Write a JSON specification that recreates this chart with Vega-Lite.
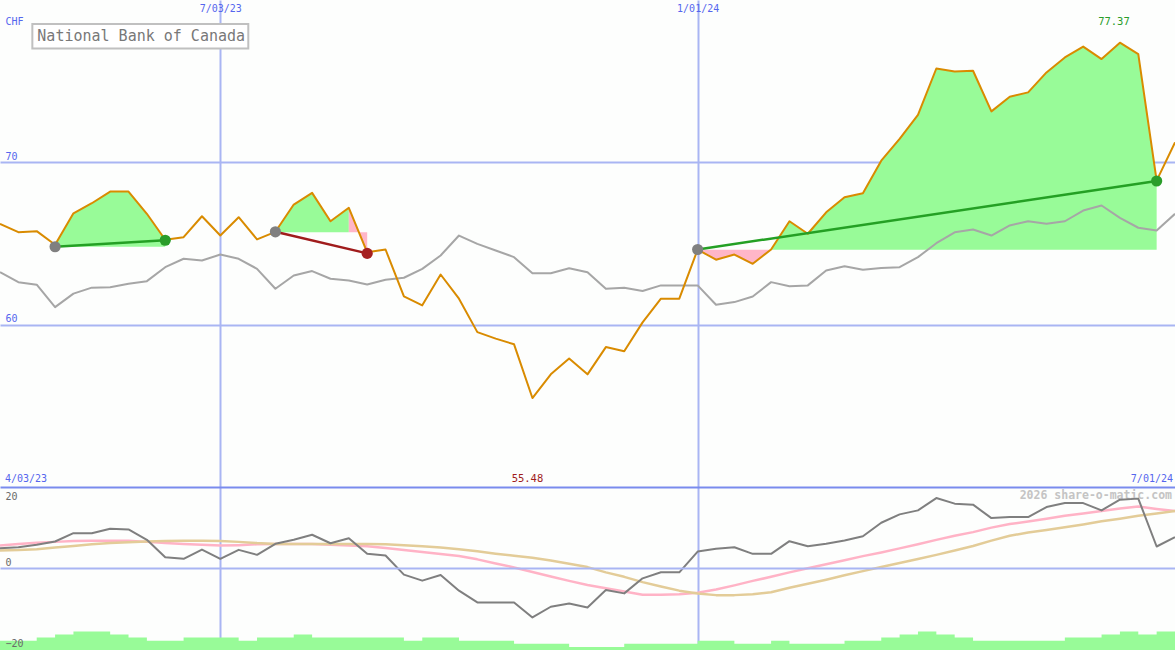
{
  "$schema": "https://vega.github.io/schema/vega-lite/v6.json",
  "padding": 0,
  "spacing": 0,
  "background": "#fdfefd",
  "config": {"view": {"stroke": null}, "concat": {"spacing": 0}},
  "datasets": {
    "prices": [
      {"date":"2023-04-10","price":66.21,"bench":63.23,"mom":4.94,"ma1":5.6,"ma2":4.4,"vol":3},
      {"date":"2023-04-17","price":65.70,"bench":62.62,"mom":5.19,"ma1":6.0,"ma2":4.5,"vol":3},
      {"date":"2023-04-24","price":65.76,"bench":62.46,"mom":5.78,"ma1":6.3,"ma2":4.7,"vol":4},
      {"date":"2023-05-01","price":64.92,"bench":61.08,"mom":6.59,"ma1":6.5,"ma2":5.1,"vol":5},
      {"date":"2023-05-08","price":66.86,"bench":61.91,"mom":8.64,"ma1":6.7,"ma2":5.5,"vol":6},
      {"date":"2023-05-15","price":67.48,"bench":62.28,"mom":8.64,"ma1":6.8,"ma2":5.9,"vol":6},
      {"date":"2023-05-22","price":68.20,"bench":62.31,"mom":9.73,"ma1":6.8,"ma2":6.2,"vol":5},
      {"date":"2023-05-29","price":68.20,"bench":62.52,"mom":9.56,"ma1":6.8,"ma2":6.4,"vol":4},
      {"date":"2023-06-05","price":66.83,"bench":62.68,"mom":7.01,"ma1":6.5,"ma2":6.6,"vol":3},
      {"date":"2023-06-12","price":65.23,"bench":63.54,"mom":2.72,"ma1":6.2,"ma2":6.7,"vol":3},
      {"date":"2023-06-19","price":65.39,"bench":64.06,"mom":2.32,"ma1":6.0,"ma2":6.8,"vol":4},
      {"date":"2023-06-26","price":66.68,"bench":63.95,"mom":4.62,"ma1":5.8,"ma2":6.8,"vol":4},
      {"date":"2023-07-03","price":65.49,"bench":64.32,"mom":2.32,"ma1":5.6,"ma2":6.7,"vol":4},
      {"date":"2023-07-10","price":66.62,"bench":64.06,"mom":4.54,"ma1":5.7,"ma2":6.5,"vol":3},
      {"date":"2023-07-17","price":65.25,"bench":63.44,"mom":3.31,"ma1":5.9,"ma2":6.2,"vol":4},
      {"date":"2023-07-24","price":65.72,"bench":62.21,"mom":6.02,"ma1":6.0,"ma2":6.0,"vol":4},
      {"date":"2023-07-31","price":67.40,"bench":63.03,"mom":7.01,"ma1":6.0,"ma2":6.0,"vol":5},
      {"date":"2023-08-07","price":68.12,"bench":63.30,"mom":8.25,"ma1":5.95,"ma2":6.0,"vol":4},
      {"date":"2023-08-14","price":66.37,"bench":62.83,"mom":6.17,"ma1":5.8,"ma2":6.0,"vol":4},
      {"date":"2023-08-21","price":67.20,"bench":62.72,"mom":7.41,"ma1":5.6,"ma2":6.0,"vol":4},
      {"date":"2023-08-28","price":64.46,"bench":62.48,"mom":3.56,"ma1":5.4,"ma2":6.0,"vol":4},
      {"date":"2023-09-04","price":64.63,"bench":62.77,"mom":3.14,"ma1":5.0,"ma2":5.9,"vol":4},
      {"date":"2023-09-11","price":61.74,"bench":62.89,"mom":-1.56,"ma1":4.5,"ma2":5.7,"vol":3},
      {"date":"2023-09-18","price":61.19,"bench":63.44,"mom":-3.04,"ma1":4.0,"ma2":5.4,"vol":4},
      {"date":"2023-09-25","price":63.09,"bench":64.26,"mom":-1.64,"ma1":3.5,"ma2":5.1,"vol":4},
      {"date":"2023-10-02","price":61.60,"bench":65.49,"mom":-5.51,"ma1":3.0,"ma2":4.7,"vol":3},
      {"date":"2023-10-09","price":59.54,"bench":64.98,"mom":-8.40,"ma1":2.2,"ma2":4.2,"vol":3},
      {"date":"2023-10-16","price":59.14,"bench":64.57,"mom":-8.40,"ma1":1.2,"ma2":3.6,"vol":3},
      {"date":"2023-10-23","price":58.79,"bench":64.16,"mom":-8.40,"ma1":0.2,"ma2":3.1,"vol":2},
      {"date":"2023-10-30","price":55.48,"bench":63.17,"mom":-12.10,"ma1":-0.9,"ma2":2.6,"vol":2},
      {"date":"2023-11-06","price":56.94,"bench":63.17,"mom":-9.46,"ma1":-2.0,"ma2":1.9,"vol":2},
      {"date":"2023-11-13","price":57.91,"bench":63.48,"mom":-8.64,"ma1":-3.1,"ma2":1.1,"vol":1},
      {"date":"2023-11-20","price":56.94,"bench":63.23,"mom":-9.63,"ma1":-4.1,"ma2":0.3,"vol":1},
      {"date":"2023-11-27","price":58.62,"bench":62.21,"mom":-5.33,"ma1":-4.9,"ma2":-1.0,"vol":1},
      {"date":"2023-12-04","price":58.36,"bench":62.28,"mom":-6.17,"ma1":-5.7,"ma2":-2.1,"vol":2},
      {"date":"2023-12-11","price":60.14,"bench":62.07,"mom":-2.47,"ma1":-6.5,"ma2":-3.4,"vol":2},
      {"date":"2023-12-18","price":61.60,"bench":62.42,"mom":-0.99,"ma1":-6.5,"ma2":-4.5,"vol":2},
      {"date":"2023-12-25","price":61.60,"bench":62.42,"mom":-0.99,"ma1":-6.4,"ma2":-5.5,"vol":2},
      {"date":"2024-01-01","price":64.63,"bench":62.42,"mom":4.12,"ma1":-6.0,"ma2":-6.2,"vol":3},
      {"date":"2024-01-08","price":64.00,"bench":61.23,"mom":4.79,"ma1":-5.2,"ma2":-6.6,"vol":3},
      {"date":"2024-01-15","price":64.32,"bench":61.39,"mom":5.19,"ma1":-4.2,"ma2":-6.6,"vol":2},
      {"date":"2024-01-22","price":63.75,"bench":61.74,"mom":3.56,"ma1":-3.1,"ma2":-6.4,"vol":2},
      {"date":"2024-01-29","price":64.63,"bench":62.62,"mom":3.56,"ma1":-2.1,"ma2":-5.9,"vol":3},
      {"date":"2024-02-05","price":66.37,"bench":62.37,"mom":6.67,"ma1":-1.0,"ma2":-4.8,"vol":2},
      {"date":"2024-02-12","price":65.60,"bench":62.42,"mom":5.43,"ma1":0.0,"ma2":-3.8,"vol":2},
      {"date":"2024-02-19","price":66.92,"bench":63.34,"mom":6.02,"ma1":1.0,"ma2":-2.8,"vol":2},
      {"date":"2024-02-26","price":67.85,"bench":63.60,"mom":6.84,"ma1":2.0,"ma2":-1.7,"vol":3},
      {"date":"2024-03-04","price":68.09,"bench":63.38,"mom":7.90,"ma1":3.0,"ma2":-0.7,"vol":3},
      {"date":"2024-03-11","price":70.10,"bench":63.49,"mom":11.21,"ma1":3.9,"ma2":0.3,"vol":4},
      {"date":"2024-03-18","price":71.44,"bench":63.54,"mom":13.26,"ma1":4.9,"ma2":1.3,"vol":5},
      {"date":"2024-03-25","price":72.92,"bench":64.16,"mom":14.25,"ma1":5.9,"ma2":2.3,"vol":6},
      {"date":"2024-04-01","price":75.78,"bench":65.02,"mom":17.28,"ma1":7.0,"ma2":3.3,"vol":5},
      {"date":"2024-04-08","price":75.60,"bench":65.69,"mom":15.90,"ma1":8.0,"ma2":4.4,"vol":4},
      {"date":"2024-04-15","price":75.64,"bench":65.86,"mom":15.65,"ma1":8.9,"ma2":5.5,"vol":3},
      {"date":"2024-04-22","price":73.14,"bench":65.49,"mom":12.35,"ma1":10.0,"ma2":6.8,"vol":3},
      {"date":"2024-04-29","price":74.04,"bench":66.11,"mom":12.60,"ma1":10.9,"ma2":8.0,"vol":3},
      {"date":"2024-05-06","price":74.31,"bench":66.37,"mom":12.60,"ma1":11.5,"ma2":8.8,"vol":3},
      {"date":"2024-05-13","price":75.54,"bench":66.21,"mom":15.06,"ma1":12.2,"ma2":9.4,"vol":3},
      {"date":"2024-05-20","price":76.46,"bench":66.37,"mom":16.05,"ma1":12.9,"ma2":10.1,"vol":4},
      {"date":"2024-05-27","price":77.13,"bench":67.03,"mom":16.05,"ma1":13.5,"ma2":10.8,"vol":4},
      {"date":"2024-06-03","price":76.36,"bench":67.34,"mom":14.25,"ma1":14.1,"ma2":11.6,"vol":5},
      {"date":"2024-06-10","price":77.37,"bench":66.58,"mom":16.89,"ma1":14.7,"ma2":12.2,"vol":6},
      {"date":"2024-06-17","price":76.67,"bench":65.97,"mom":17.14,"ma1":15.2,"ma2":12.9,"vol":5},
      {"date":"2024-06-24","price":68.87,"bench":65.80,"mom":5.36,"ma1":14.6,"ma2":13.5,"vol":6},
      {"date":"2024-07-01","price":71.23,"bench":66.83,"mom":7.65,"ma1":14.1,"ma2":14.07,"vol":6}
    ],
    "fills": [
      {"seg":"t1g","kind":"gain","date":"2023-05-01","price":64.92,"base":64.80},
      {"seg":"t1g","kind":"gain","date":"2023-05-08","price":66.86,"base":64.80},
      {"seg":"t1g","kind":"gain","date":"2023-05-15","price":67.48,"base":64.80},
      {"seg":"t1g","kind":"gain","date":"2023-05-22","price":68.20,"base":64.80},
      {"seg":"t1g","kind":"gain","date":"2023-05-29","price":68.20,"base":64.80},
      {"seg":"t1g","kind":"gain","date":"2023-06-05","price":66.83,"base":64.80},
      {"seg":"t1g","kind":"gain","date":"2023-06-12","price":65.23,"base":64.80},
      {"seg":"t2g","kind":"gain","date":"2023-07-24","price":65.72,"base":65.70},
      {"seg":"t2g","kind":"gain","date":"2023-07-31","price":67.40,"base":65.70},
      {"seg":"t2g","kind":"gain","date":"2023-08-07","price":68.12,"base":65.70},
      {"seg":"t2g","kind":"gain","date":"2023-08-14","price":66.37,"base":65.70},
      {"seg":"t2g","kind":"gain","date":"2023-08-21","price":67.20,"base":65.70},
      {"seg":"t2l","kind":"loss","date":"2023-08-21","price":67.20,"base":65.70},
      {"seg":"t2l","kind":"loss","date":"2023-08-28","price":64.46,"base":65.70},
      {"seg":"t3l","kind":"loss","date":"2024-01-01","price":64.63,"base":64.61},
      {"seg":"t3l","kind":"loss","date":"2024-01-08","price":64.00,"base":64.61},
      {"seg":"t3l","kind":"loss","date":"2024-01-15","price":64.32,"base":64.61},
      {"seg":"t3l","kind":"loss","date":"2024-01-22","price":63.75,"base":64.61},
      {"seg":"t3l","kind":"loss","date":"2024-01-29","price":64.63,"base":64.61},
      {"seg":"t3g","kind":"gain","date":"2024-01-29","price":64.63,"base":64.61},
      {"seg":"t3g","kind":"gain","date":"2024-02-05","price":66.37,"base":64.61},
      {"seg":"t3g","kind":"gain","date":"2024-02-12","price":65.60,"base":64.61},
      {"seg":"t3g","kind":"gain","date":"2024-02-19","price":66.92,"base":64.61},
      {"seg":"t3g","kind":"gain","date":"2024-02-26","price":67.85,"base":64.61},
      {"seg":"t3g","kind":"gain","date":"2024-03-04","price":68.09,"base":64.61},
      {"seg":"t3g","kind":"gain","date":"2024-03-11","price":70.10,"base":64.61},
      {"seg":"t3g","kind":"gain","date":"2024-03-18","price":71.44,"base":64.61},
      {"seg":"t3g","kind":"gain","date":"2024-03-25","price":72.92,"base":64.61},
      {"seg":"t3g","kind":"gain","date":"2024-04-01","price":75.78,"base":64.61},
      {"seg":"t3g","kind":"gain","date":"2024-04-08","price":75.60,"base":64.61},
      {"seg":"t3g","kind":"gain","date":"2024-04-15","price":75.64,"base":64.61},
      {"seg":"t3g","kind":"gain","date":"2024-04-22","price":73.14,"base":64.61},
      {"seg":"t3g","kind":"gain","date":"2024-04-29","price":74.04,"base":64.61},
      {"seg":"t3g","kind":"gain","date":"2024-05-06","price":74.31,"base":64.61},
      {"seg":"t3g","kind":"gain","date":"2024-05-13","price":75.54,"base":64.61},
      {"seg":"t3g","kind":"gain","date":"2024-05-20","price":76.46,"base":64.61},
      {"seg":"t3g","kind":"gain","date":"2024-05-27","price":77.13,"base":64.61},
      {"seg":"t3g","kind":"gain","date":"2024-06-03","price":76.36,"base":64.61},
      {"seg":"t3g","kind":"gain","date":"2024-06-10","price":77.37,"base":64.61},
      {"seg":"t3g","kind":"gain","date":"2024-06-17","price":76.67,"base":64.61},
      {"seg":"t3g","kind":"gain","date":"2024-06-24","price":68.87,"base":64.61}
    ],
    "trades": [
      {"trade":"t1","result":"win","date":"2023-05-01","value":64.80},
      {"trade":"t1","result":"win","date":"2023-06-12","value":65.20},
      {"trade":"t2","result":"loss","date":"2023-07-24","value":65.72},
      {"trade":"t2","result":"loss","date":"2023-08-28","value":64.39},
      {"trade":"t3","result":"win","date":"2024-01-01","value":64.63},
      {"trade":"t3","result":"win","date":"2024-06-24","value":68.85}
    ],
    "dots": [
      {"date":"2023-05-01","value":64.80,"type":"entry"},
      {"date":"2023-06-12","value":65.20,"type":"win"},
      {"date":"2023-07-24","value":65.72,"type":"entry"},
      {"date":"2023-08-28","value":64.39,"type":"loss"},
      {"date":"2024-01-01","value":64.63,"type":"entry"},
      {"date":"2024-06-24","value":68.85,"type":"win"}
    ]
  },
  "vconcat": [
    {
      "width": 1175,
      "height": 487,
      "layer": [
        {
          "data": {"name": "fills"},
          "mark": {"type": "area", "interpolate": "linear", "opacity": 1, "clip": true},
          "encoding": {
            "x": {"field": "date", "type": "temporal",
                  "scale": {"type": "utc", "nice": false, "domain": [{"year":2023,"month":4,"date":10,"utc":true},{"year":2024,"month":7,"date":1,"utc":true}]},
                  "axis": {"orient": "top", "values": [{"year":2023,"month":7,"date":3,"utc":true},{"year":2024,"month":1,"date":1,"utc":true}],
                           "labelExpr": "utcFormat(datum.value, '%-m/%d/%y')", "grid": true, "gridColor": "#a9b5f3", "gridWidth": 2,
                           "ticks": false, "tickSize": 0, "domain": false, "labelPadding": -8, "labelBaseline": "middle",
                           "labelFont": "DejaVu Sans Mono", "labelFontSize": 10, "labelColor": "#5566ee", "title": null,
                           "labelFlush": false, "labelOverlap": false}},
            "y": {"field": "price", "type": "quantitative",
                  "scale": {"domain": [50, 80], "zero": false, "nice": false},
                  "axis": {"values": [60, 70], "grid": true, "gridColor": "#a9b5f3", "gridWidth": 2, "ticks": false, "tickSize": 0,
                           "domain": false, "labelAlign": "left", "labelPadding": -5, "labelBaseline": "middle", "labelOffset": -6,
                           "labelFont": "DejaVu Sans Mono", "labelFontSize": 10, "labelColor": "#5566ee",
                           "title": "CHF", "titleAngle": 0, "titleAlign": "left", "titleBaseline": "middle", "titleX": 5, "titleY": 21,
                           "titleFont": "DejaVu Sans Mono", "titleFontSize": 10, "titleFontWeight": "normal", "titleColor": "#5566ee"}},
            "y2": {"field": "base"},
            "fill": {"field": "kind", "type": "nominal", "scale": {"domain": ["gain", "loss"], "range": ["#98fb98", "#ffb6c8"]}, "legend": null},
            "detail": {"field": "seg", "type": "nominal"}
          }
        },
        {
          "data": {"name": "prices"},
          "mark": {"type": "line", "color": "#a6a6a6", "strokeWidth": 2, "clip": true, "strokeJoin": "round"},
          "encoding": {
            "x": {"field": "date", "type": "temporal"},
            "y": {"field": "bench", "type": "quantitative"}
          }
        },
        {
          "data": {"name": "prices"},
          "mark": {"type": "line", "color": "#d98b00", "strokeWidth": 2, "clip": true, "strokeJoin": "round"},
          "encoding": {
            "x": {"field": "date", "type": "temporal"},
            "y": {"field": "price", "type": "quantitative"}
          }
        },
        {
          "data": {"name": "trades"},
          "mark": {"type": "line", "strokeWidth": 2.5, "clip": true},
          "encoding": {
            "x": {"field": "date", "type": "temporal"},
            "y": {"field": "value", "type": "quantitative"},
            "stroke": {"field": "result", "type": "nominal", "scale": {"domain": ["win", "loss"], "range": ["#24a024", "#a01c1c"]}, "legend": null},
            "detail": {"field": "trade", "type": "nominal"}
          }
        },
        {
          "data": {"name": "dots"},
          "mark": {"type": "point", "filled": true, "size": 125, "opacity": 1, "clip": true},
          "encoding": {
            "x": {"field": "date", "type": "temporal"},
            "y": {"field": "value", "type": "quantitative"},
            "color": {"field": "type", "type": "nominal", "scale": {"domain": ["entry", "win", "loss"], "range": ["#808080", "#2a9d2a", "#a52020"]}, "legend": null}
          }
        },
        {
          "data": {"values": [{}]},
          "mark": {"type": "rect", "fill": "#ffffff", "stroke": "#c0c0c0", "strokeWidth": 2},
          "encoding": {
            "x": {"datum": {"year":2023,"month":4,"date":22,"hours":8,"utc":true}, "type": "temporal"},
            "x2": {"datum": {"year":2023,"month":7,"date":13,"hours":16,"utc":true}},
            "y": {"datum": 78.52, "type": "quantitative"},
            "y2": {"datum": 77.02}
          }
        },
        {
          "data": {"values": [{"name": "National Bank of Canada"}]},
          "mark": {"type": "text", "font": "DejaVu Sans Mono", "fontSize": 15, "color": "#787878", "align": "center", "baseline": "middle"},
          "encoding": {
            "x": {"datum": {"year":2023,"month":6,"date":2,"hours":20,"utc":true}, "type": "temporal"},
            "y": {"datum": 77.77, "type": "quantitative"},
            "text": {"field": "name"}
          }
        },
        {
          "data": {"values": [{"date": "2024-06-10", "label": "77.37"}]},
          "mark": {"type": "text", "font": "DejaVu Sans Mono", "fontSize": 10.5, "color": "#2a9d2a", "align": "center", "baseline": "middle", "dx": -6},
          "encoding": {
            "x": {"field": "date", "type": "temporal"},
            "y": {"datum": 78.64, "type": "quantitative"},
            "text": {"field": "label"}
          }
        },
        {
          "data": {"values": [{"date": "2023-10-30", "label": "55.48"}]},
          "mark": {"type": "text", "font": "DejaVu Sans Mono", "fontSize": 10.5, "color": "#a01c1c", "align": "center", "baseline": "middle", "dx": -5},
          "encoding": {
            "x": {"field": "date", "type": "temporal"},
            "y": {"datum": 50.49, "type": "quantitative"},
            "text": {"field": "label"}
          }
        },
        {
          "data": {"values": [{"label": "4/03/23"}]},
          "mark": {"type": "text", "font": "DejaVu Sans Mono", "fontSize": 10, "color": "#5566ee", "align": "left", "baseline": "middle", "dx": 5},
          "encoding": {
            "x": {"datum": {"year":2023,"month":4,"date":10,"utc":true}, "type": "temporal"},
            "y": {"datum": 50.49, "type": "quantitative"},
            "text": {"field": "label"}
          }
        },
        {
          "data": {"values": [{"label": "7/01/24"}]},
          "mark": {"type": "text", "font": "DejaVu Sans Mono", "fontSize": 10, "color": "#5566ee", "align": "right", "baseline": "middle", "dx": -2},
          "encoding": {
            "x": {"datum": {"year":2024,"month":7,"date":1,"utc":true}, "type": "temporal"},
            "y": {"datum": 50.49, "type": "quantitative"},
            "text": {"field": "label"}
          }
        }
      ]
    },
    {
      "width": 1175,
      "height": 163,
      "layer": [
        {
          "data": {"name": "prices"},
          "mark": {"type": "area", "interpolate": "step-after", "color": "#98fb98", "opacity": 1, "clip": true},
          "encoding": {
            "x": {"field": "date", "type": "temporal",
                  "scale": {"type": "utc", "nice": false, "domain": [{"year":2023,"month":4,"date":10,"utc":true},{"year":2024,"month":7,"date":1,"utc":true}]},
                  "axis": {"values": [{"year":2023,"month":7,"date":3,"utc":true},{"year":2024,"month":1,"date":1,"utc":true}],
                           "grid": true, "gridColor": "#a9b5f3", "gridWidth": 2, "labels": false, "ticks": false, "tickSize": 0, "domain": false, "title": null}},
            "y": {"field": "vol", "type": "quantitative", "scale": {"domain": [0, 52.6], "nice": false}, "axis": null}
          }
        },
        {
          "layer": [
            {
              "data": {"values": [{"label": "2026 share-o-matic.com"}]},
              "mark": {"type": "text", "font": "DejaVu Sans Mono", "fontSize": 11.5, "fontWeight": "bold", "color": "#c4c4c4", "align": "right", "baseline": "middle", "dx": -3},
              "encoding": {
                "x": {"datum": {"year":2024,"month":7,"date":1,"utc":true}, "type": "temporal"},
                "y": {"datum": 17.8, "type": "quantitative",
                      "scale": {"domain": [-20.1, 20], "zero": false, "nice": false},
                      "axis": {"values": [-20, 0, 20], "grid": true, "zindex": 1,
                               "gridColor": {"condition": {"test": "datum.value == 20", "value": "#7a8bee"}, "value": "#a9b5f3"},
                               "gridOpacity": {"condition": {"test": "datum.value == -20", "value": 0}, "value": 1},
                               "gridWidth": 2, "ticks": false, "tickSize": 0, "domain": false,
                               "labelAlign": "left", "labelPadding": -5, "labelBaseline": "middle",
                               "labelOffset": {"condition": {"test": "datum.value == 20", "value": 9}, "value": -6},
                               "labelFont": "DejaVu Sans Mono", "labelFontSize": 10, "labelColor": "#6a6a6a", "title": null}},
                "text": {"field": "label"}
              }
            },
            {
              "data": {"name": "prices"},
              "mark": {"type": "line", "color": "#ffb3c6", "strokeWidth": 2.5, "clip": true, "strokeJoin": "round"},
              "encoding": {
                "x": {"field": "date", "type": "temporal"},
                "y": {"field": "ma1", "type": "quantitative"}
              }
            },
            {
              "data": {"name": "prices"},
              "mark": {"type": "line", "color": "#e3cc98", "strokeWidth": 2.5, "clip": true, "strokeJoin": "round"},
              "encoding": {
                "x": {"field": "date", "type": "temporal"},
                "y": {"field": "ma2", "type": "quantitative"}
              }
            },
            {
              "data": {"name": "prices"},
              "mark": {"type": "line", "color": "#7f7f7f", "strokeWidth": 2, "clip": true, "strokeJoin": "round"},
              "encoding": {
                "x": {"field": "date", "type": "temporal"},
                "y": {"field": "mom", "type": "quantitative"}
              }
            }
          ]
        }
      ],
      "resolve": {"scale": {"y": "independent"}}
    }
  ]
}
